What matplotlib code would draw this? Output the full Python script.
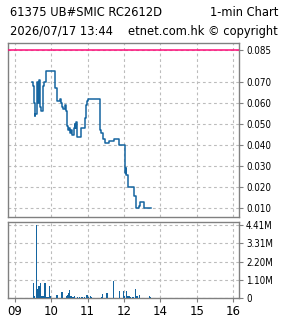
import matplotlib
matplotlib.use("Agg")
import matplotlib.pyplot as plt
import numpy as np

# price steps (time, price)
price_times = ["09:29", "09:30", "09:31", "09:32", "09:33", "09:34", "09:36", "09:37", "09:38",
               "09:39", "09:40", "09:41", "09:42", "09:43", "09:46", "09:47", "09:49", "09:51",
               "10:07", "10:10", "10:14", "10:16", "10:17", "10:18", "10:19", "10:23", "10:24",
               "10:26", "10:27", "10:28", "10:29", "10:31", "10:32", "10:34", "10:35", "10:38",
               "10:39", "10:40", "10:41", "10:42", "10:43", "10:49", "10:55", "10:57", "10:58",
               "10:59", "11:00", "11:20", "11:22", "11:26", "11:29", "11:35", "11:43", "11:51",
               "11:52", "13:01", "13:02", "13:03", "13:04", "13:06", "13:16", "13:20", "13:25",
               "13:27", "13:33", "13:44"]
prices = [0.070, 0.068, 0.065, 0.060, 0.054, 0.055, 0.060, 0.070, 0.063,
          0.060, 0.071, 0.061, 0.058, 0.056, 0.058, 0.068, 0.070, 0.075,
          0.067, 0.061, 0.062, 0.061, 0.060, 0.058, 0.057, 0.059, 0.056,
          0.049, 0.048, 0.047, 0.048, 0.046, 0.047, 0.046, 0.045, 0.048,
          0.050, 0.048, 0.051, 0.049, 0.044, 0.048, 0.053, 0.054, 0.059,
          0.061, 0.062, 0.047, 0.046, 0.043, 0.041, 0.042, 0.043, 0.042,
          0.040, 0.029, 0.027, 0.029, 0.026, 0.020, 0.016, 0.010, 0.011,
          0.013, 0.010, 0.010]

vol_times = ["09:31", "09:33", "09:36", "09:37", "09:38", "09:40", "09:42", "09:43", "09:45",
             "09:47", "09:49", "09:50", "09:53", "09:55", "09:57", "09:59", "10:09", "10:10",
             "10:18", "10:26", "10:27", "10:28", "10:29", "10:30", "10:31", "10:33", "10:36",
             "10:38", "10:39", "10:43", "10:47", "10:51", "10:55", "10:59", "11:01", "11:05",
             "11:06", "11:23", "11:25", "11:32", "11:33", "11:43", "11:52", "11:59", "13:00",
             "13:04", "13:05", "13:06", "13:08", "13:10", "13:15", "13:19", "13:20", "13:22",
             "13:26", "13:42", "13:44"]
volumes = [0.90, 0.15, 4.41, 0.55, 0.10, 0.75, 0.90, 0.30, 0.15,
           0.15, 0.10, 0.90, 0.08, 0.08, 0.75, 0.10, 0.20, 0.20,
           0.35, 0.10, 0.20, 0.30, 0.30, 0.50, 0.15, 0.15, 0.08,
           0.10, 0.08, 0.08, 0.08, 0.05, 0.08, 0.20, 0.08, 0.10,
           0.05, 0.08, 0.25, 0.30, 0.08, 1.00, 0.45, 0.45, 0.10,
           0.45, 0.10, 0.15, 0.10, 0.08, 0.08, 0.55, 0.10, 0.15,
           0.20, 0.15, 0.08]

prev_close = 0.085
price_ticks = [0.085, 0.070, 0.060, 0.050, 0.040, 0.030, 0.020, 0.010]
vol_ticks = [0, 1.10, 2.20, 3.31, 4.41]
vol_labels = ["0", "1.10M", "2.20M", "3.31M", "4.41M"]
hour_labels = ["09", "10", "11", "12", "14", "15", "16"]


def to_pos(t):
    # lunch break removed: 12:00 and 13:00 share one position
    h, m = map(int, t.split(":"))
    if h >= 13:
        return 3 + (h - 13) + m / 60
    return (h - 9) + m / 60


px = [to_pos(t) for t in price_times]
vx = [to_pos(t) for t in vol_times]
hour_pos = np.arange(len(hour_labels))

blue = "#1565a0"
grey = "#808080"

fig = plt.figure(figsize=(2.85, 3.18), dpi=100)
ax = fig.add_axes([8 / 285, 1 - 217 / 318, 231 / 285, 174 / 318])
axv = fig.add_axes([8 / 285, 1 - 298 / 318, 231 / 285, 76 / 318])

for a in (ax, axv):
    a.set_xlim(-0.184, 6.156)
    a.set_xticks(hour_pos)
    a.grid(True, color="#bcbcbc", linestyle=(0, (2.5, 2.5)), linewidth=0.8)
    a.set_axisbelow(True)
    for s in a.spines.values():
        s.set_color(grey)
        s.set_linewidth(1.0)
    a.yaxis.tick_right()
    a.tick_params(axis="y", direction="out", length=3, color=grey, pad=2)

ax.axhline(prev_close, color="#ff0a78", linewidth=1.1, zorder=3)
ax.step(px, prices, where="post", color=blue, linewidth=1.1, zorder=4)
ax.set_ylim(0.0059, 0.0885)
ax.set_yticks(price_ticks)
ax.set_yticklabels(["%.3f" % v for v in price_ticks], fontsize=7, fontstretch="condensed")
ax.tick_params(axis="x", length=0, labelbottom=False)

axv.bar(vx, volumes, width=0.035, color=blue, linewidth=0, zorder=3)
axv.set_ylim(0, 4.59)
axv.set_yticks(vol_ticks)
axv.set_yticklabels(vol_labels, fontsize=7, fontstretch="condensed")
axv.set_xticklabels(hour_labels, fontsize=8.5)
axv.tick_params(axis="x", direction="out", length=3, color=grey, pad=2)

fig.text(10 / 285, 1 - 13 / 318, "61375 UB#SMIC RC2612D", fontsize=8.3, va="center", ha="left")
fig.text(278 / 285, 1 - 13 / 318, "1-min Chart", fontsize=8.3, va="center", ha="right")
fig.text(10 / 285, 1 - 31 / 318, "2026/07/17 13:44", fontsize=8.3, va="center", ha="left")
fig.text(278 / 285, 1 - 31 / 318, "etnet.com.hk \u00a9 copyright", fontsize=8.3, va="center", ha="right")

fig.savefig("out.png", dpi=100)
